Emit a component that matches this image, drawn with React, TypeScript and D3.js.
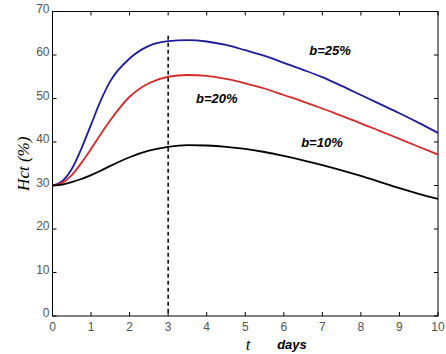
import React, { useEffect, useRef } from 'react';
import * as d3 from 'd3';

const tValues = [0, 0.25, 0.5, 0.75, 1, 1.25, 1.5, 2, 2.5, 3, 3.5, 4, 4.5, 5, 5.5, 6, 6.5, 7, 7.5, 8, 8.5, 9, 9.5, 10];
const hct25 = [30, 31, 33.8, 38.5, 44, 49.5, 54.0, 59.2, 62.1, 63.2, 63.4, 63.1, 62.3, 61.1, 59.8, 58.2, 56.6, 54.9, 52.9, 50.8, 48.7, 46.6, 44.4, 42.1];
const hct20 = [30, 30.6, 32.4, 35.2, 38.4, 41.8, 45.0, 50.4, 53.5, 55.0, 55.4, 55.2, 54.5, 53.5, 52.3, 50.8, 49.3, 47.7, 46.0, 44.3, 42.5, 40.7, 38.9, 37.1];
const hct10 = [30, 30.2, 30.8, 31.5, 32.4, 33.4, 34.5, 36.5, 38.0, 38.9, 39.3, 39.2, 38.9, 38.4, 37.7, 36.8, 35.8, 34.7, 33.5, 32.2, 30.8, 29.4, 28.1, 26.9];
const xTicks = [0, 1, 2, 3, 4, 5, 6, 7, 8, 9, 10];
const yTicks = [0, 10, 20, 30, 40, 50, 60, 70];
const seriesNames = ['b=25%', 'b=20%', 'b=10%'];
const seriesColors = ['#1c1c9c', '#d42a2a', '#000000'];
const markerDay = 3;

const App = () => {
  const chartRef = useRef<SVGSVGElement | null>(null);

  useEffect(() => {
    const width = 446;
    const height = 354;
    const marginLeft = 52.5;
    const marginRight = 8;
    const marginTop = 11.5;
    const marginBottom = 38;

    const svg = d3.select(chartRef.current);
    svg.selectAll('*').remove();
    svg.attr('width', width).attr('height', height).attr('viewBox', [0, 0, width, height]);

    const x = d3.scaleLinear().domain([0, 10]).range([marginLeft, width - marginRight]);
    const y = d3.scaleLinear().domain([0, 70]).range([height - marginBottom, marginTop]);

    const tickLen = 4;
    const tickColor = '#555';

    // frame
    svg.append('rect')
      .attr('x', x(0)).attr('y', y(70))
      .attr('width', x(10) - x(0)).attr('height', y(0) - y(70))
      .attr('fill', 'none').attr('stroke', '#000').attr('stroke-width', 1);

    // inner ticks on all four sides
    const tickG = svg.append('g').attr('stroke', '#000').attr('stroke-width', 1);
    xTicks.forEach(t => {
      tickG.append('line').attr('x1', x(t)).attr('x2', x(t)).attr('y1', y(0)).attr('y2', y(0) - tickLen);
      tickG.append('line').attr('x1', x(t)).attr('x2', x(t)).attr('y1', y(70)).attr('y2', y(70) + tickLen);
    });
    yTicks.forEach(v => {
      tickG.append('line').attr('x1', x(0)).attr('x2', x(0) + tickLen).attr('y1', y(v)).attr('y2', y(v));
      tickG.append('line').attr('x1', x(10)).attr('x2', x(10) - tickLen).attr('y1', y(v)).attr('y2', y(v));
    });

    // tick labels
    svg.append('g')
      .attr('font-family', 'Arial, Liberation Sans, sans-serif')
      .attr('font-size', 12)
      .attr('fill', tickColor)
      .attr('text-anchor', 'end')
      .selectAll('text')
      .data(yTicks)
      .join('text')
        .attr('x', x(0) - 3)
        .attr('y', d => y(d) + 1)
        .text(d => d);

    svg.append('g')
      .attr('font-family', 'Arial, Liberation Sans, sans-serif')
      .attr('font-size', 12)
      .attr('fill', tickColor)
      .attr('text-anchor', 'middle')
      .selectAll('text')
      .data(xTicks)
      .join('text')
        .attr('x', d => x(d))
        .attr('y', y(0) + 15)
        .text(d => d);

    // curves
    const allSeries = [hct25, hct20, hct10];
    const line = d3.line<number>()
      .x((_, i) => x(tValues[i]))
      .y(d => y(d))
      .curve(d3.curveMonotoneX);

    svg.append('g')
      .attr('fill', 'none')
      .selectAll('path')
      .data(allSeries)
      .join('path')
        .attr('stroke', (_, i) => seriesColors[i])
        .attr('stroke-width', 1.8)
        .attr('d', d => line(d));

    // dashed marker
    svg.append('line')
      .attr('x1', x(markerDay)).attr('x2', x(markerDay))
      .attr('y1', y(64.4)).attr('y2', y(0))
      .attr('stroke', '#000').attr('stroke-width', 1.5)
      .attr('stroke-dasharray', '4,3');

    // series labels
    const labelPos = [[7.2, 55], [4.26, 103], [6.99, 147]];
    svg.append('g')
      .attr('font-family', 'Arial, Liberation Sans, sans-serif')
      .attr('font-size', 13)
      .attr('font-weight', 'bold')
      .attr('font-style', 'italic')
      .attr('text-anchor', 'middle')
      .selectAll('text')
      .data(seriesNames)
      .join('text')
        .attr('x', (_, i) => x(labelPos[i][0]))
        .attr('y', (_, i) => labelPos[i][1])
        .text(d => d);

    // axis labels
    svg.append('text')
      .attr('transform', `translate(29,${y(35)}) rotate(-90)`)
      .attr('text-anchor', 'middle')
      .attr('font-family', 'Times New Roman, Liberation Serif, serif')
      .attr('font-style', 'italic')
      .attr('font-size', 17)
      .text('Hct (%)');

    svg.append('text')
      .attr('x', 248)
      .attr('y', 350)
      .attr('text-anchor', 'middle')
      .attr('font-family', 'Times New Roman, Liberation Serif, serif')
      .attr('font-style', 'italic')
      .attr('font-size', 17)
      .text('t');

    svg.append('text')
      .attr('x', 292)
      .attr('y', 349)
      .attr('text-anchor', 'middle')
      .attr('font-family', 'Arial, Liberation Sans, sans-serif')
      .attr('font-style', 'italic')
      .attr('font-weight', 'bold')
      .attr('font-size', 13)
      .text('days');
  }, []);

  return (
    <div style={{ position: 'fixed', left: 0, top: 0, width: 446, height: 354, background: '#fff' }}>
      <svg ref={chartRef} style={{ display: 'block' }}></svg>
    </div>
  );
};

export default App;
